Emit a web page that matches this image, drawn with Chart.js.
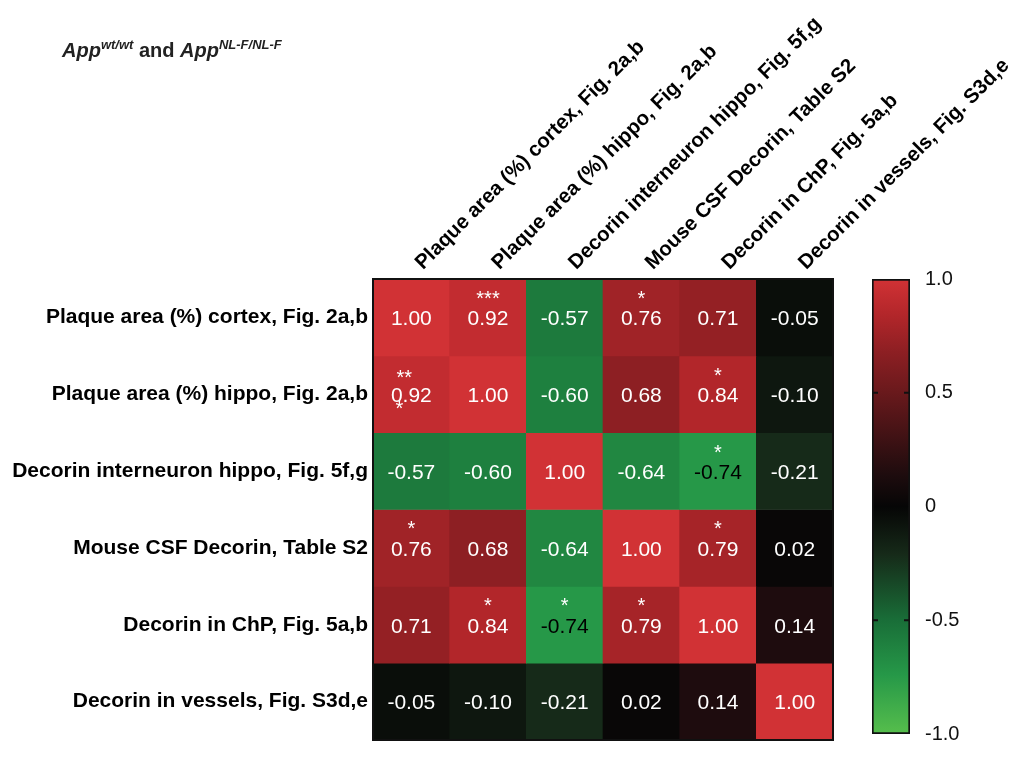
<!DOCTYPE html>
<html>
<head>
<meta charset="utf-8">
<script src="https://cdn.jsdelivr.net/npm/chart.js@4.4.0/dist/chart.umd.min.js"></script>
<style>
  body { margin: 0; background: #fff; }
  #wrap { position: relative; width: 1021px; height: 761px; }
  #heat { position: absolute; left: 0; top: 0; }
  #bar { position: absolute; left: 850px; top: 0; }
  #title { position: absolute; left: 62px; top: 37px; font: bold 20px "Liberation Sans", Arial, sans-serif; color: #222; white-space: nowrap; }
  #title sup { font-size: 13px; font-style: italic; vertical-align: 8px; }
</style>
</head>
<body>
<div id="wrap">
  <canvas id="heat" width="1021" height="761"></canvas>
  <canvas id="bar" width="171" height="761"></canvas>
  <div id="title"><i>App</i><sup>wt/wt</sup> and <i>App</i><sup>NL-F/NL-F</sup></div>
</div>
<script>
// variables, same order on both axes
const labels = [
  'Plaque area (%) cortex, Fig. 2a,b',
  'Plaque area (%) hippo, Fig. 2a,b',
  'Decorin interneuron hippo, Fig. 5f,g',
  'Mouse CSF Decorin, Table S2',
  'Decorin in ChP, Fig. 5a,b',
  'Decorin in vessels, Fig. S3d,e'
];

// correlation rows
const rCortex   = [1.00, 0.92, -0.57, 0.76, 0.71, -0.05];
const rHippo    = [0.92, 1.00, -0.60, 0.68, 0.84, -0.10];
const rInterneu = [-0.57, -0.60, 1.00, -0.64, -0.74, -0.21];
const rCsf      = [0.76, 0.68, -0.64, 1.00, 0.79, 0.02];
const rChp      = [0.71, 0.84, -0.74, 0.79, 1.00, 0.14];
const rVessels  = [-0.05, -0.10, -0.21, 0.02, 0.14, 1.00];
const matrix = [rCortex, rHippo, rInterneu, rCsf, rChp, rVessels];

// significance stars ('|' = part drawn under the number)
const sCortex   = ['', '***', '', '*', '', ''];
const sHippo    = ['**|*', '', '', '', '*', ''];
const sInterneu = ['', '', '', '', '*', ''];
const sCsf      = ['*', '', '', '', '*', ''];
const sChp      = ['', '*', '*', '*', '', ''];
const sVessels  = ['', '', '', '', '', ''];
const stars = [sCortex, sHippo, sInterneu, sCsf, sChp, sVessels];

const barTicks = [-1, -0.5, 0, 0.5, 1];

// colour map: value -> rgb
const cmap = [
  [-1.0, [86, 190, 76]],
  [-0.74, [38, 152, 72]],
  [-0.5, [25, 110, 56]],
  [-0.21, [22, 42, 25]],
  [-0.05, [10, 14, 10]],
  [0.0, [6, 6, 6]],
  [0.14, [30, 12, 14]],
  [0.5, [105, 25, 28]],
  [0.68, [141, 31, 35]],
  [0.84, [178, 38, 42]],
  [1.0, [209, 50, 53]]
];
function colorFor(v) {
  for (let k = 1; k < cmap.length; k++) {
    if (v <= cmap[k][0]) {
      const [v0, c0] = cmap[k - 1], [v1, c1] = cmap[k];
      const t = (v - v0) / (v1 - v0);
      const c = c0.map((a, i) => Math.round(a + (c1[i] - a) * t));
      return `rgb(${c[0]},${c[1]},${c[2]})`;
    }
  }
  const c = cmap[cmap.length - 1][1];
  return `rgb(${c[0]},${c[1]},${c[2]})`;
}

const FONT = '"Liberation Sans", Arial, sans-serif';

const cellText = {
  id: 'cellText',
  afterDatasetsDraw(chart) {
    const ctx = chart.ctx;
    ctx.save();
    ctx.textAlign = 'center';
    ctx.textBaseline = 'middle';
    chart.data.datasets.forEach((ds, i) => {
      chart.getDatasetMeta(i).data.forEach((bar, j) => {
        const v = matrix[i][j];
        const cx = bar.x, cy = (bar.y + bar.base) / 2;
        ctx.font = '21px ' + FONT;
        ctx.fillStyle = v < -0.7 ? '#000' : '#fff';
        ctx.fillText(v.toFixed(2), cx, cy + 2);
        const s = stars[i][j];
        if (s) {
          ctx.fillStyle = '#fff';
          ctx.font = '20px ' + FONT;
          const parts = s.split('|');
          if (parts.length > 1) {
            ctx.fillText(parts[0], cx - 7, cy - 16);
            ctx.fillText(parts[1], cx - 12, cy + 15);
          } else {
            ctx.fillText(s, cx, cy - 18);
          }
        }
      });
    });
    const a = chart.chartArea;
    ctx.lineWidth = 2;
    ctx.strokeStyle = '#111';
    ctx.strokeRect(a.left, a.top, a.right - a.left, a.bottom - a.top);
    ctx.restore();
  }
};

new Chart(document.getElementById('heat'), {
  type: 'bar',
  data: {
    labels: labels,
    datasets: matrix.map((row, i) => ({
      label: labels[i],
      data: row.map(() => 1),
      backgroundColor: row.map(colorFor),
      borderWidth: 0,
      barPercentage: 1,
      categoryPercentage: 1,
      stack: 'm'
    }))
  },
  options: {
    responsive: false,
    animation: false,
    layout: { padding: { left: 0, top: 0, right: 188, bottom: 21 } },
    plugins: { legend: { display: false }, tooltip: { enabled: false } },
    scales: {
      x: {
        position: 'top',
        stacked: true,
        grid: { display: false, drawTicks: false },
        border: { display: false },
        ticks: {
          autoSkip: false, minRotation: 45, maxRotation: 45, padding: 4, labelOffset: 25,
          color: '#000', font: { family: FONT, size: 20.5, weight: 'bold' }
        },
        afterFit(scale) {
          scale.height = 279;
          scale.paddingLeft = 0;
          scale.paddingRight = 0;
        }
      },
      y: {
        stacked: true,
        min: 0, max: 6,
        reverse: true,
        grid: { display: false, drawTicks: false },
        border: { display: false },
        afterBuildTicks(scale) {
          scale.ticks = labels.map((l, i) => ({ value: i + 0.5 }));
        },
        ticks: {
          padding: 5,
          color: '#000', font: { family: FONT, size: 21, weight: 'bold' },
          callback: (v) => labels[Math.floor(v)]
        },
        afterFit(scale) { scale.width = 373; }
      }
    }
  },
  plugins: [cellText]
});

// colour bar
const barMarks = {
  id: 'barMarks',
  afterDatasetsDraw(chart) {
    const ctx = chart.ctx, a = chart.chartArea, y = chart.scales.y;
    ctx.save();
    ctx.strokeStyle = '#111';
    ctx.lineWidth = 2;
    [-0.5, 0.5].forEach(v => {
      const py = y.getPixelForValue(v);
      ctx.beginPath();
      ctx.moveTo(a.left, py); ctx.lineTo(a.left + 6, py);
      ctx.moveTo(a.right, py); ctx.lineTo(a.right - 6, py);
      ctx.stroke();
    });
    ctx.restore();
  }
};

new Chart(document.getElementById('bar'), {
  type: 'bar',
  data: {
    labels: ['r'],
    datasets: [{
      data: [[-1, 1]],
      backgroundColor(context) {
        const a = context.chart.chartArea;
        if (!a) return '#000';
        const g = context.chart.ctx.createLinearGradient(0, a.bottom, 0, a.top);
        cmap.forEach(([v, c]) => g.addColorStop((v + 1) / 2, `rgb(${c[0]},${c[1]},${c[2]})`));
        return g;
      },
      borderColor: '#111',
      borderWidth: 2,
      borderSkipped: false,
      barPercentage: 1,
      categoryPercentage: 1
    }]
  },
  options: {
    responsive: false,
    animation: false,
    layout: { padding: { left: 22, top: 279, right: 0, bottom: 21 } },
    plugins: { legend: { display: false }, tooltip: { enabled: false } },
    scales: {
      x: { display: false },
      y: {
        position: 'right',
        min: -1, max: 1,
        grid: { display: false, drawTicks: false },
        border: { display: false },
        afterBuildTicks(scale) {
          scale.ticks = barTicks.map(v => ({ value: v }));
        },
        ticks: {
          padding: 15,
          color: '#111', font: { family: FONT, size: 20 },
          callback: (v) => v === 0 ? '0' : v.toFixed(1)
        },
        afterFit(scale) { scale.width = 111; }
      }
    }
  },
  plugins: [barMarks]
});
</script>
</body>
</html>
